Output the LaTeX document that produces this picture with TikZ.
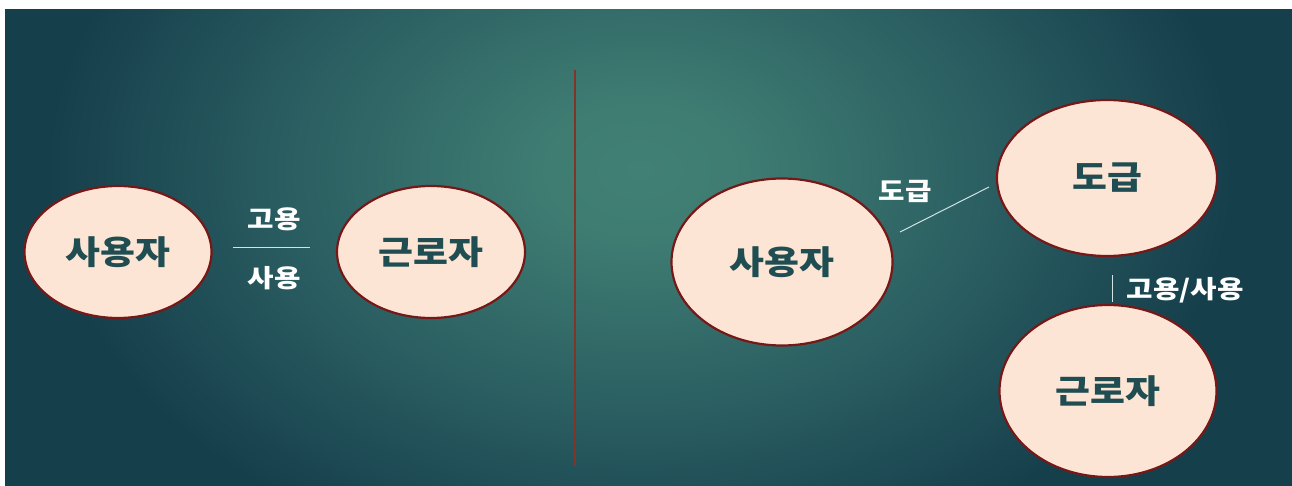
\documentclass[tikz,border=0pt]{standalone}
\usepackage{fontspec}
\newfontfamily\kr{Noto Sans CJK KR}[FakeStretch=1.15]
\usetikzlibrary{shapes.geometric}
\definecolor{bgc}{HTML}{418074}
\definecolor{bgm}{HTML}{2B5F62}
\definecolor{bgd}{HTML}{163F4C}
\definecolor{elfill}{HTML}{FDE5D5}
\definecolor{eldraw}{HTML}{771818}
\definecolor{eltext}{HTML}{1F4D52}
\definecolor{divc}{HTML}{803528}
\definecolor{linec}{HTML}{D2E4E2}
\pgfdeclareradialshading{bgshade}{\pgfpoint{0bp}{0bp}}{color(0bp)=(bgc); color(3bp)=(bgc!90!bgm); color(11bp)=(bgm); color(19bp)=(bgd); color(25bp)=(bgd); color(50bp)=(bgd)}
\tikzset{
  oval/.style={ellipse, draw=eldraw, line width=2.2pt, fill=elfill, inner sep=0pt,
    text=eltext, font=\kr\bfseries\fontsize{33}{40}\selectfont},
  lbl/.style={text=white, font=\kr\bfseries\fontsize{25}{30}\selectfont, inner sep=0pt},
  thin/.style={draw=linec, line width=1pt}
}
\begin{document}
\begin{tikzpicture}[x=1pt,y=-1pt]
\useasboundingbox (0,0) rectangle (1292,486);
\fill[white] (0,0) rectangle (1292,486);
\begin{scope}
  \clip (5,10) rectangle (1292,486);
  \fill[bgd] (5,10) rectangle (1292,486);
  \shade[shading=bgshade] (640,170) ellipse (780 and 540);
\end{scope}
% divider
\coordinate (dtop) at (575,70);
\coordinate (dbot) at (575,466);
\draw[divc, line width=1.6pt] (dtop) -- (dbot);
% left side
\node[oval, minimum width=187pt, minimum height=132pt] (u1) at (118,252) {사용자};
\node[oval, minimum width=188pt, minimum height=132pt] (w1) at (431,252) {근로자};
\coordinate (l1a) at (233,248);
\coordinate (l1b) at (310,248);
\draw[thin] (l1a) -- (l1b);
\node[lbl] (t1) at (274,219) {고용};
\node[lbl] (t2) at (274,278) {사용};
% right side
\node[oval, minimum width=221pt, minimum height=167pt] (u2) at (782,262) {사용자};
\node[oval, minimum width=220pt, minimum height=156pt] (d2) at (1107,178) {도급};
\node[oval, minimum width=217pt, minimum height=172pt] (w2) at (1108,391) {근로자};
\coordinate (l2a) at (900,232);
\coordinate (l2b) at (989,187);
\draw[thin] (l2a) -- (l2b);
\node[lbl] (t3) at (905,191) {도급};
\coordinate (l3a) at (1112,275);
\coordinate (l3b) at (1112,302);
\draw[thin] (l3a) -- (l3b);
\node[lbl] (t4) at (1185,290) {고용/사용};
\end{tikzpicture}
\end{document}
